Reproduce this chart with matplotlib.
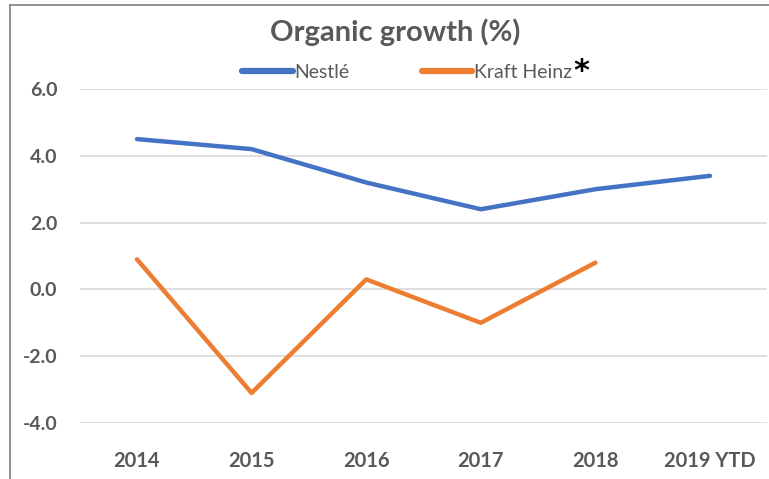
import matplotlib
matplotlib.use('Agg')
import matplotlib.pyplot as plt
from matplotlib.lines import Line2D

# Data
years = ['2014', '2015', '2016', '2017', '2018', '2019 YTD']
nestle = [4.5, 4.2, 3.2, 2.4, 3.0, 3.4]
kraft_heinz = [0.9, -3.1, 0.3, -1.0, 0.8]
yticks = [-4, -2, 0, 2, 4, 6]

grey = '#595959'
blue = '#4472C4'
orange = '#ED7D31'

plt.rcParams['font.family'] = ['Lato', 'DejaVu Sans']

fig = plt.figure(figsize=(7.69, 4.79), dpi=100)
ax = fig.add_axes([79.7 / 769, 56 / 479, 687.6 / 769, 334 / 479])

x = list(range(len(years)))
ax.plot(x, nestle, color=blue, lw=3.2, solid_capstyle='round', label='Nestlé')
ax.plot(x[:len(kraft_heinz)], kraft_heinz, color=orange, lw=3.2,
        solid_capstyle='round', label='Kraft Heinz')

ax.set_xlim(-0.5, 5.5)
ax.set_ylim(-4, 6)
ax.set_yticks(yticks)
ax.set_yticklabels(['%.1f' % v for v in yticks], fontsize=14, fontweight='bold', color=grey)
ax.set_xticks(x)
ax.set_xticklabels(years, fontsize=14.5, fontweight='bold', color=grey)
ax.tick_params(axis='both', length=0)
ax.tick_params(axis='x', pad=20)
ax.tick_params(axis='y', pad=16)
ax.grid(axis='y', color='#d9d9d9', lw=1.2)
ax.set_axisbelow(True)
for s in ax.spines.values():
    s.set_visible(False)

fig.text(395 / 769, 1 - 32 / 479, 'Organic growth (%)', ha='center', va='center',
         fontsize=21, fontweight='bold', color=grey)

leg = fig.legend(loc='center', bbox_to_anchor=(407 / 769, 1 - 72 / 479), ncol=2,
                 frameon=False, fontsize=14, handlelength=2.6, handletextpad=0.1,
                 columnspacing=3.7, labelcolor=grey)
for h in leg.legend_handles:
    h.set_linewidth(4.5)

fig.canvas.draw()
renderer = fig.canvas.get_renderer()
bb = leg.get_texts()[1].get_window_extent(renderer)
ax_inv = fig.transFigure.inverted()
px, py = ax_inv.transform((bb.x1 + 1, bb.y1 + 7))
fig.text(px, py, '*', ha='left', va='top', fontsize=22, fontweight='bold', color='black',
         family='DejaVu Sans')

# outer border (left and top visible)
fig.add_artist(Line2D([10 / 769, 10 / 769], [0, 1 - 5 / 479], transform=fig.transFigure,
                      color='#898989', lw=1.3))
fig.add_artist(Line2D([10 / 769, 1], [1 - 5 / 479, 1 - 5 / 479], transform=fig.transFigure,
                      color='#898989', lw=1.3))

fig.savefig('out.png', dpi=100)
